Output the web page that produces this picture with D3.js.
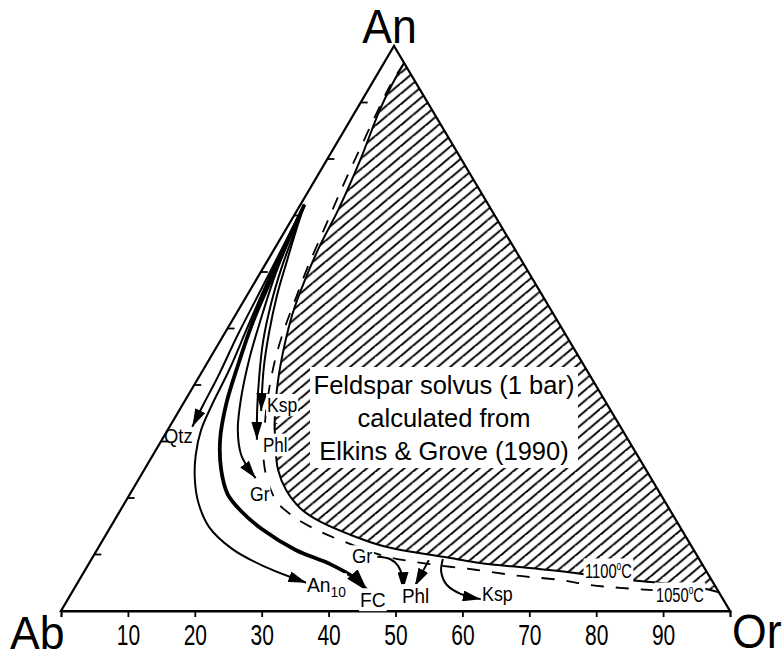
<!DOCTYPE html>
<html>
<head>
<meta charset="utf-8">
<title>Feldspar ternary An–Ab–Or</title>
<script src="https://cdn.jsdelivr.net/npm/d3@7/dist/d3.min.js"></script>
<style>
  html, body { margin: 0; padding: 0; background: #fff; }
  svg { display: block; }
  text { font-family: "Liberation Sans", Arial, Helvetica, sans-serif; fill: #000; }
</style>
</head>
<body>
<svg id="chart" width="783" height="658"></svg>
<script>
// Every composition is [An %, Or %]; Ab is the remainder to 100.

// Tick values and labels
const orTickValues = [10, 20, 30, 40, 50, 60, 70, 80, 90];
const orTickLabels = ["10", "20", "30", "40", "50", "60", "70", "80", "90"];
const anTickValues = [10, 20, 30, 40, 50, 60, 70, 80, 90];

// Feldspar solvus at 1 bar (Elkins & Grove 1990)
const solvus1100 = [
  [97.0, 3.0], [93.1, 3.1], [88.7, 3.5], [79.8, 5.0], [71.0, 6.1], [64.8, 6.5],
  [58.6, 7.3], [52.7, 8.4], [46.7, 10.1], [40.9, 12.1], [34.7, 14.7], [29.4, 17.4],
  [25.0, 20.0], [21.4, 23.0], [18.2, 26.7], [15.8, 30.9], [13.5, 36.5], [11.5, 42.4],
  [10.3, 48.1], [9.4, 53.5], [8.5, 58.4], [7.6, 66.3], [6.7, 73.8], [5.8, 79.2],
  [5.3, 83.9], [4.8, 88.7], [4.1, 93.5], [3.3, 96.7]
];
const solvus1050 = [
  [97.0, 3.0], [92.9, 2.9], [88.3, 3.3], [82.5, 3.9], [76.8, 4.5], [71.3, 5.2],
  [66.0, 5.9], [60.7, 6.6], [55.6, 7.5], [50.6, 8.4], [45.8, 9.5], [41.2, 10.9],
  [36.5, 12.6], [31.5, 14.7], [26.7, 17.0], [22.8, 19.6], [19.3, 22.7], [16.5, 26.8],
  [14.2, 31.4], [12.2, 36.4], [9.7, 43.6], [8.3, 51.0], [7.3, 58.3], [6.2, 65.5],
  [5.5, 71.9], [4.6, 76.8], [4.1, 81.5], [3.7, 86.6]
];

// Feldspar paths from the common starting composition
const pathQtz = [[71.9, 0.6], [64.2, 1.1], [56.6, 1.6], [48.8, 2.1], [41.6, 2.8], [36.5, 3.1], [32.6, 3.4]];
const pathAn10 = [
  [71.9, 0.6], [65.1, 1.1], [57.7, 1.9], [50.1, 2.9], [42.7, 3.9], [36.5, 4.4], [32.0, 5.0],
  [27.6, 6.4], [23.5, 8.3], [19.3, 10.9], [14.9, 14.7], [11.0, 20.1], [8.0, 26.2], [5.0, 34.2]
];
const pathFC = [
  [71.9, 0.6], [65.3, 1.3], [58.4, 2.2], [51.2, 3.2], [43.5, 4.8], [36.5, 6.5], [30.3, 8.7],
  [25.0, 11.5], [20.7, 14.6], [17.7, 18.1], [14.5, 22.8], [10.8, 29.7], [8.3, 36.1], [6.0, 40.7], [3.5, 44.1]
];
const pathGr = [[71.9, 0.6], [66.0, 1.4], [59.5, 2.4], [51.9, 4.1], [44.4, 6.0], [37.3, 8.3], [32.0, 10.5], [27.6, 13.2], [25.3, 15.4], [23.5, 17.4]];
const pathPhl = [[71.9, 0.6], [66.7, 1.6], [60.9, 2.7], [54.5, 4.3], [47.6, 6.5], [41.2, 9.1], [35.6, 11.6], [30.3, 14.2]];
const pathKsp = [[71.9, 0.6], [67.4, 1.6], [62.1, 2.9], [55.8, 4.5], [49.2, 6.6], [43.0, 8.9], [35.4, 12.3]];
const pathGrToPhl = [[9.6, 42.5], [9.2, 44.6], [8.0, 46.4], [6.2, 47.9], [3.7, 49.3]];
const pathPhlLate = [[9.0, 50.5], [4.4, 50.7]];
const pathKspLate = [[9.2, 52.5], [6.9, 53.4], [4.6, 55.4], [3.0, 58.3], [2.1, 61.7]];

// ---- scales: Or runs along the base, An rises toward the apex ----
const xScale = d3.scaleLinear().domain([0, 100]).range([61, 730]);
const yScale = d3.scaleLinear().domain([0, 100]).range([611, 46]);
const apexShift = (394 - 61) / (730 - 61);
const project = ([an, or]) => [xScale(or + an * apexShift), yScale(an)];

const svg = d3.select("#chart");
const defs = svg.append("defs");

// diagonal "/" hatching, about 40 degrees from horizontal
const hw = 12.5, hh = hw * Math.tan(40 * Math.PI / 180);
defs.append("pattern")
  .attr("id", "hatch")
  .attr("patternUnits", "userSpaceOnUse")
  .attr("width", hw).attr("height", hh)
  .append("path")
  .attr("d", `M0,${hh}L${hw},0M${-hw},${hh}L0,0M${hw},${hh}L${2 * hw},0M0,${2 * hh}L${hw},${hh}`)
  .attr("stroke", "#000").attr("stroke-width", 2).attr("fill", "none");

function addMarker(id, len, wid) {
  defs.append("marker")
    .attr("id", id)
    .attr("viewBox", `0 0 ${len} ${wid}`)
    .attr("refX", len).attr("refY", wid / 2)
    .attr("markerWidth", len).attr("markerHeight", wid)
    .attr("markerUnits", "userSpaceOnUse")
    .attr("orient", "auto")
    .append("path")
    .attr("d", `M0,0L${len},${wid / 2}L0,${wid}Z`)
    .attr("fill", "#000");
}
addMarker("arrow", 18, 11);
addMarker("arrowBig", 23, 14);

const curve = d3.line()
  .x(d => project(d)[0])
  .y(d => project(d)[1])
  .curve(d3.curveCatmullRom.alpha(0.5));

// ---- two-feldspar field (hatched), closed along the An–Or edge ----
svg.append("path")
  .attr("d", curve(solvus1100) + "Z")
  .attr("fill", "url(#hatch)")
  .attr("stroke", "none");

svg.append("path")
  .attr("d", curve(solvus1100))
  .attr("fill", "none").attr("stroke", "#000").attr("stroke-width", 2);

svg.append("path")
  .attr("d", curve(solvus1050))
  .attr("fill", "none").attr("stroke", "#000").attr("stroke-width", 1.8)
  .attr("stroke-dasharray", "13,12");

// ---- triangle frame ----
const corners = [[0, 0], [0, 100], [100, 0]];
svg.append("path")
  .attr("d", "M" + corners.map(project).map(p => p.join(",")).join("L") + "Z")
  .attr("fill", "none").attr("stroke", "#000").attr("stroke-width", 2.2)
  .attr("stroke-linejoin", "miter");

// base axis (Or %)
const axis = svg.append("g")
  .attr("transform", `translate(0,${yScale(0)})`)
  .call(d3.axisBottom(xScale)
    .tickValues(orTickValues)
    .tickFormat((d, i) => orTickLabels[i])
    .tickSize(6).tickSizeOuter(6).tickPadding(7));
axis.select(".domain").attr("stroke", "#000").attr("stroke-width", 2.2);
axis.selectAll(".tick line").attr("stroke", "#000").attr("stroke-width", 1.8);
axis.selectAll(".tick text")
  .attr("font-family", "'Liberation Sans', Arial, sans-serif")
  .attr("font-size", 30)
  .attr("transform", "scale(0.7,1)");

// An ticks on the Ab–An edge, pointing inward
svg.append("g").selectAll("line")
  .data(anTickValues)
  .join("line")
  .attr("x1", d => project([d, 0])[0])
  .attr("y1", d => project([d, 0])[1])
  .attr("x2", d => project([d, 0])[0] + 7)
  .attr("y2", d => project([d, 0])[1])
  .attr("stroke", "#000").attr("stroke-width", 1.8);

// ---- paths with arrowheads ----
const paths = [
  { data: pathQtz, w: 2, m: "arrow" },
  { data: pathAn10, w: 2, m: "arrow" },
  { data: pathGr, w: 2, m: "arrow" },
  { data: pathPhl, w: 2, m: "arrow" },
  { data: pathKsp, w: 2, m: "arrow" },
  { data: pathFC, w: 3.8, m: "arrowBig" },
  { data: pathGrToPhl, w: 2, m: "arrow" },
  { data: pathPhlLate, w: 2, m: "arrow" },
  { data: pathKspLate, w: 2, m: "arrow" }
];
svg.append("g").selectAll("path")
  .data(paths)
  .join("path")
  .attr("d", d => curve(d.data))
  .attr("fill", "none")
  .attr("stroke", "#000")
  .attr("stroke-width", d => d.w)
  .attr("marker-end", d => `url(#${d.m})`);

// ---- text ----
function addLabel(x, y, parts, opt) {
  const o = Object.assign({ size: 18, sx: 1, box: false, anchor: "start", pad: [1, 0] }, opt);
  const g = svg.append("g").attr("transform", `translate(${x},${y}) scale(${o.sx},1)`);
  const bg = g.append("rect").attr("fill", "#fff");
  const t = g.append("text").attr("font-size", o.size).attr("text-anchor", o.anchor);
  parts.forEach(p => {
    t.append("tspan").attr("font-size", p.size || o.size).attr("dy", p.dy || 0).text(p.t);
  });
  if (o.box) {
    const b = t.node().getBBox();
    bg.attr("x", b.x - o.pad[0]).attr("y", b.y - o.pad[1])
      .attr("width", b.width + 2 * o.pad[0]).attr("height", b.height + 2 * o.pad[1]);
  }
  return g;
}

// solvus caption
const captionLines = ["Feldspar solvus (1 bar)", "calculated from", "Elkins & Grove (1990)"];
svg.append("rect").attr("x", 310).attr("y", 367).attr("width", 268).attr("height", 101).attr("fill", "#fff");
svg.append("g").selectAll("text")
  .data(captionLines)
  .join("text")
  .attr("x", 444)
  .attr("y", (d, i) => 394 + i * 33)
  .attr("text-anchor", "middle")
  .attr("font-size", 25.5)
  .text(d => d);

// isotherm labels
addLabel(585, 578, [{ t: "1100" }, { t: "o", size: 12, dy: -8 }, { t: "C", dy: 8 }], { size: 21, sx: 0.7, box: true, pad: [2, 1] });
addLabel(656, 602, [{ t: "1050" }, { t: "o", size: 12, dy: -8 }, { t: "C", dy: 8 }], { size: 21, sx: 0.7, box: true, pad: [2, 1] });

// mineral labels
addLabel(164, 443, [{ t: "Qtz" }], { size: 20, sx: 0.92 });
addLabel(267, 412, [{ t: "Ksp" }], { size: 20, sx: 0.88, box: true });
addLabel(273, 430, [{ t: "r" }], { size: 13 });
addLabel(263, 452, [{ t: "Phl" }], { size: 20, sx: 0.85, box: true });
addLabel(250, 501, [{ t: "Gr" }], { size: 20, sx: 0.88, box: true });
addLabel(352, 563, [{ t: "Gr" }], { size: 20, sx: 0.92, box: true });
addLabel(307, 592, [{ t: "An" }, { t: "10", size: 15, dy: 5 }], { size: 21, sx: 0.92, box: true });
addLabel(360, 607, [{ t: "FC" }], { size: 21, sx: 0.92, box: true });
addLabel(402, 603, [{ t: "Phl" }], { size: 21, sx: 0.9, box: true });
addLabel(482, 601, [{ t: "Ksp" }], { size: 21, sx: 0.85, box: true });

// corner labels
addLabel(389.5, 43, [{ t: "An" }], { size: 48, sx: 0.93, anchor: "middle" });
addLabel(10, 649, [{ t: "Ab" }], { size: 47, sx: 0.95 });
addLabel(732, 648, [{ t: "Or" }], { size: 48, sx: 0.93 });
</script>
</body>
</html>
